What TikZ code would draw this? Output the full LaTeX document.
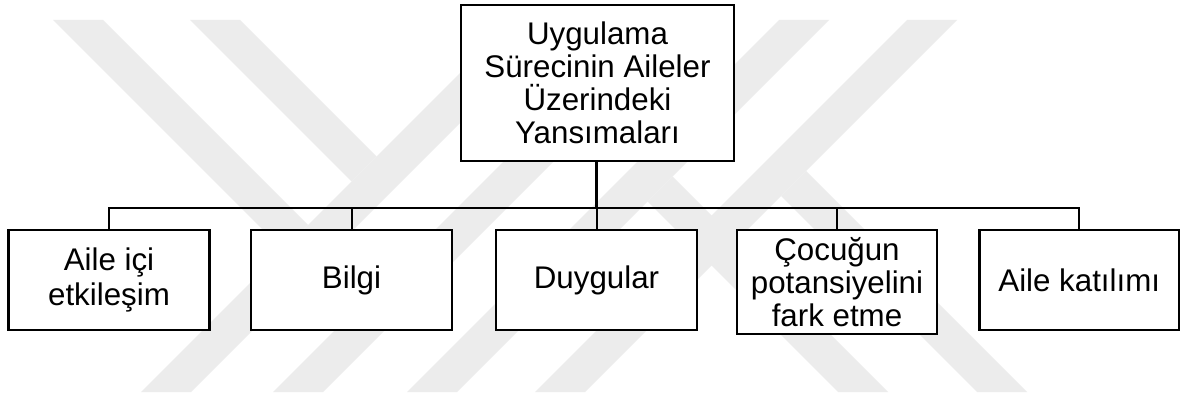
\documentclass[tikz,border=0pt]{standalone}
\usepackage{fontspec}
\setmainfont{Liberation Sans}
\definecolor{wm}{RGB}{236,236,236}
\begin{document}
\begin{tikzpicture}[x=1pt,y=-1pt,
  box/.style={draw=black, line width=2.2pt, fill=white, rectangle, inner sep=0pt,
    align=center, font=\fontsize{31.3}{33}\selectfont},
  conn/.style={draw=black, line width=2pt, line join=miter},
  trunk/.style={draw=black, line width=3pt},
  wmark/.style={fill=wm, draw=none}]
\fill[white] (0,0) rectangle (1181,396);
\useasboundingbox (0,0) rectangle (1181,396);
% faint watermark stripes
\fill[wmark] (53,20) -- (103,20) -- (308,225) -- (283,250) -- cycle;
\fill[wmark] (190,20) -- (240,20) -- (376.5,156.5) -- (351.5,181.5) -- cycle;
\fill[wmark] (513,20) -- (563,20) -- (191,392) -- (141,392) -- cycle;
\fill[wmark] (645,20) -- (695,20) -- (323,392) -- (273,392) -- cycle;
\fill[wmark] (779,20) -- (829,20) -- (457,392) -- (407,392) -- cycle;
\fill[wmark] (907,20) -- (957,20) -- (585,392) -- (535,392) -- cycle;
\fill[wmark] (806,171) -- (1027,392) -- (977,392) -- (781,196) -- cycle;
\fill[wmark] (672.5,176.5) -- (888,392) -- (838,392) -- (647.5,201.5) -- cycle;
% nodes
\node[box, minimum width=273pt, minimum height=156pt] (top) at (597.5,83)
  {Uygulama\\Sürecinin Aileler\\Üzerindeki\\Yansımaları};
\node[box, minimum width=201pt, minimum height=100pt] (b1) at (109,280)
  {Aile içi\\[2pt]etkileşim};
\node[box, minimum width=201pt, minimum height=100pt] (b2) at (351.5,280) {Bilgi};
\node[box, minimum width=201pt, minimum height=100pt] (b3) at (596.5,280) {Duygular};
\node[box, minimum width=200pt, minimum height=104pt] (b4) at (837,282)
  {Çocuğun\\potansiyelini\\fark etme};
\node[box, minimum width=199.5pt, minimum height=100pt] (b5) at (1079.25,280) {Aile katılımı};
\coordinate (bus) at (596.5,208);
% connectors
\draw[trunk] (top.south -| b3.north) -- (bus);
\draw[conn] (b1.north) -- (b1.north |- bus) -- (b5.north |- bus) -- (b5.north);
\foreach \b in {b2,b3,b4} \draw[conn] (\b.north) -- (\b.north |- bus);
\end{tikzpicture}
\end{document}
